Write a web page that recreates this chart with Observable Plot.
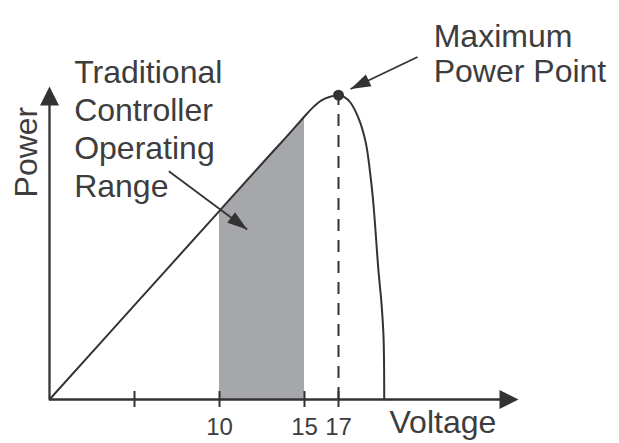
<!DOCTYPE html>
<html><head><meta charset="utf-8">
<script src="https://cdn.jsdelivr.net/npm/d3@7"></script>
<script src="https://cdn.jsdelivr.net/npm/@observablehq/plot@0.6"></script>
<style>html,body{margin:0;padding:0;background:#fff;}</style>
</head><body><div id="chart"></div>
<script>
// ---- data ----
const voltage = [0, 5, 10, 13, 14, 15, 15.5, 16, 16.5, 17, 17.35, 17.7, 18.2, 18.6, 18.85, 19.05, 19.35, 19.53, 19.65, 19.69];
const power   = [0, 31, 62, 80.6, 86.7, 93, 96, 98.3, 99.5, 100, 99.4, 97.6, 92.1, 84.5, 75, 64.5, 42.4, 31.5, 20.4, 0];
const tickValues = [5, 10, 15, 17];
const tickLabels = ["", "10", "15", "17"];
const rangeStart = 10, rangeEnd = 15;
const mppVoltage = 17, mppPower = 100;
const axisEndVoltage = 27.59, axisEndPower = 102.9;
const xTitle = "Voltage", yTitle = "Power";
const rangeLabel = "Traditional\nController\nOperating\nRange";
const mppLabel = "Maximum\nPower Point";
// annotation anchors (data units)
const rangeLabelPos = [1.45, 66.48];
const mppLabelPos = [22.6, 104.27];
const xTitlePos = [20.0, -11.17];
const yTitlePos = [-0.72, 81.3];
const pointerFromV = [7.02, 21.65], pointerFromP = [75.03, 112.55];
const pointerToV = [11.63, 17.71], pointerToP = [55.87, 102.04];

// ---- layout ----
const W = 619, H = 443;
const mL = 49, mR = 94, mT = 94.7, mB = 44;
const xDomain = [0, 28], yDomain = [0, 100];
const ink = "#333333", textInk = "#3d3d3d", shade = "#a6a7aa";
const font = "Liberation Sans, Arial, sans-serif";

const curve = voltage.map((v, i) => ({v, p: power[i]}));
const band = curve.filter(d => d.v >= rangeStart && d.v <= rangeEnd);

const sx = Plot.scale({x: {domain: xDomain, range: [mL, W - mR]}});
const sy = Plot.scale({y: {domain: yDomain, range: [H - mB, mT]}});
const pointers = pointerFromV.map((v, i) => {
  const dx = sx.apply(pointerToV[i]) - sx.apply(v);
  const dy = sy.apply(pointerToP[i]) - sy.apply(pointerFromP[i]);
  return {x1: v, y1: pointerFromP[i], x2: pointerToV[i], y2: pointerToP[i],
          angle: Math.atan2(dx, -dy) * 180 / Math.PI};
});

function headSymbol(ratio) {
  return {draw(ctx, size) {
    const r = Math.sqrt(size / Math.PI);
    ctx.moveTo(0, 0);
    ctx.lineTo(r * ratio, 2 * r);
    ctx.lineTo(-r * ratio, 2 * r);
    ctx.closePath();
  }};
}
const axisHead = headSymbol(1);
const pointerHead = headSymbol(0.65);

const chart = Plot.plot({
  width: W, height: H,
  marginLeft: mL, marginRight: mR, marginTop: mT, marginBottom: mB,
  x: {domain: xDomain},
  y: {domain: yDomain, axis: null},
  style: {color: textInk, fontFamily: font, background: "#fff"},
  marks: [
    Plot.areaY(band, {x: "v", y: "p", fill: shade}),
    Plot.ruleX([mppVoltage], {y1: 0, y2: mppPower, stroke: ink, strokeWidth: 2, strokeDasharray: "12,9"}),
    Plot.line(curve, {x: "v", y: "p", stroke: ink, strokeWidth: 2, curve: "catmull-rom"}),
    // axes lines
    Plot.ruleY([0], {x1: 0, x2: axisEndVoltage - 0.5, stroke: ink, strokeWidth: 2.3}),
    Plot.ruleX([0], {y1: 0, y2: axisEndPower - 2, stroke: ink, strokeWidth: 2.3}),
    Plot.dot([{x: axisEndVoltage, y: 0, a: 90}, {x: 0, y: axisEndPower, a: 0}],
      {x: "x", y: "y", rotate: "a", symbol: axisHead, r: 9.5, fill: ink, stroke: "none"}),
    // ticks crossing the axis
    Plot.ruleX(tickValues, {y1: -2.63, y2: 2.63, stroke: ink, strokeWidth: 2}),
    Plot.axisX({ticks: tickValues, tickFormat: (d) => tickLabels[tickValues.indexOf(d)],
      tickSize: 0, tickPadding: 18, fontSize: 24, fontFamily: font, fontVariant: "normal",
      label: null, anchor: "bottom", fill: textInk}),
    // MPP dot
    Plot.dot([{v: mppVoltage, p: mppPower}], {x: "v", y: "p", r: 5.5, fill: ink, stroke: "none"}),
    // pointer arrows
    Plot.link(pointers, {x1: "x1", y1: "y1", x2: "x2", y2: "y2", stroke: ink, strokeWidth: 1.8}),
    Plot.dot(pointers, {x: "x2", y: "y2", rotate: "angle", symbol: pointerHead, r: 10, fill: ink, stroke: "none"}),
    // texts
    Plot.text([rangeLabel], {x: rangeLabelPos[0], y: rangeLabelPos[1], text: d => d,
      textAnchor: "start", lineAnchor: "bottom", lineHeight: 1.19, fontSize: 32, fontFamily: font, fill: textInk}),
    Plot.text([mppLabel], {x: mppLabelPos[0], y: mppLabelPos[1], text: d => d,
      textAnchor: "start", lineAnchor: "bottom", lineHeight: 1.1, fontSize: 32, fontFamily: font, fill: textInk}),
    Plot.text([xTitle], {x: xTitlePos[0], y: xTitlePos[1], text: d => d,
      textAnchor: "start", lineAnchor: "bottom", fontSize: 32, fontFamily: font, fill: textInk}),
    Plot.text([yTitle], {x: yTitlePos[0], y: yTitlePos[1], text: d => d, rotate: -90,
      textAnchor: "middle", lineAnchor: "bottom", fontSize: 32, fontFamily: font, fill: textInk})
  ]
});
document.getElementById("chart").appendChild(chart);
</script>
</body></html>
